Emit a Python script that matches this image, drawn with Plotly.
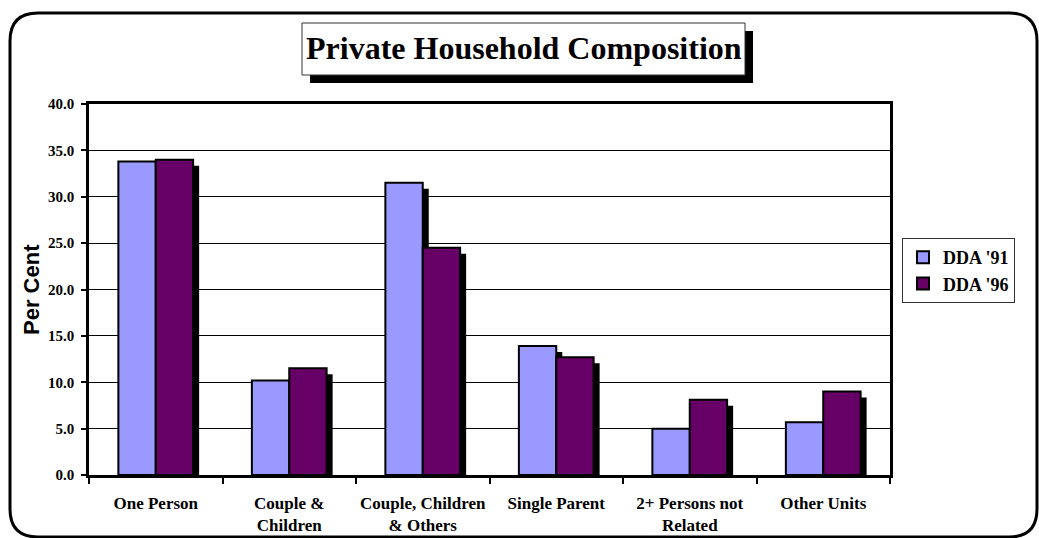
import plotly.graph_objects as go

# Household composition shares (per cent), two census years
categories = [
    "One Person",
    "Couple &<br>Children",
    "Couple, Children<br>& Others",
    "Single Parent",
    "2+ Persons not<br>Related",
    "Other Units",
]
dda_91 = [33.8, 10.2, 31.5, 13.9, 5.0, 5.7]
dda_96 = [34.0, 11.5, 24.5, 12.7, 8.1, 9.0]
series_names = ["DDA '91", "DDA '96"]
y_ticks = [0, 5, 10, 15, 20, 25, 30, 35, 40]

W, H = 1039, 538
# plot area in pixels
PL, PR, PT, PB = 89, 890, 104, 475

SERIF = "Liberation Serif, Times New Roman, serif"
SANS = "Liberation Sans, Arial, sans-serif"
LIGHT = "#9999FF"
DARK = "#660066"

BAR_W = 0.28                      # bar width in category units
SHIFT_X = 6 / ((PR - PL) / len(categories))   # shadow offset, 6 px right
DROP_Y = 6 / ((PB - PT) / 40.0)               # shadow offset, 6 px down


def px(x):
    return (x - PL) / (PR - PL)


def py(y):
    return (PB - y) / (PB - PT)


fig = go.Figure()

# drop shadows behind each bar
for vals, off in ((dda_91, -BAR_W), (dda_96, 0.0)):
    fig.add_trace(go.Bar(
        x=categories, y=[max(v - DROP_Y, 0) for v in vals],
        offset=off + SHIFT_X, width=BAR_W,
        marker=dict(color="black", line=dict(width=0)),
        showlegend=False, hoverinfo="skip",
    ))

for vals, off, col, name in ((dda_91, -BAR_W, LIGHT, series_names[0]),
                             (dda_96, 0.0, DARK, series_names[1])):
    fig.add_trace(go.Bar(
        x=categories, y=vals, name=name,
        offset=off, width=BAR_W,
        marker=dict(color=col, line=dict(color="black", width=2)),
    ))

shapes = []
# rounded outer frame
x0, y0, x1, y1, r = px(10), py(13), px(1037), py(537), 28
rx, ry = r / (PR - PL), r / (PB - PT)
path = (f"M {x0 + rx},{y0} L {x1 - rx},{y0} Q {x1},{y0} {x1},{y0 - ry} "
        f"L {x1},{y1 + ry} Q {x1},{y1} {x1 - rx},{y1} "
        f"L {x0 + rx},{y1} Q {x0},{y1} {x0},{y1 + ry} "
        f"L {x0},{y0 - ry} Q {x0},{y0} {x0 + rx},{y0} Z")
shapes.append(dict(type="path", xref="paper", yref="paper", path=path,
                   line=dict(color="black", width=3), layer="below"))
# title box with shadow
shapes.append(dict(type="rect", xref="paper", yref="paper",
                   x0=px(310), x1=px(753), y0=py(31), y1=py(83),
                   fillcolor="black", line=dict(width=0)))
shapes.append(dict(type="rect", xref="paper", yref="paper",
                   x0=px(302), x1=px(745), y0=py(23), y1=py(75),
                   fillcolor="white", line=dict(color="#333333", width=1)))

annotations = [
    dict(text="Private Household Composition", xref="paper", yref="paper",
         x=px(523.5), y=py(48), showarrow=False, xanchor="center", yanchor="middle",
         font=dict(family=SERIF, size=32, color="black", weight="bold")),
    dict(text="Per Cent", xref="paper", yref="paper",
         x=px(31), y=py(290), showarrow=False, textangle=-90,
         xanchor="center", yanchor="middle",
         font=dict(family=SANS, size=22, color="black", weight="bold")),
]

fig.update_layout(
    width=W, height=H,
    margin=dict(l=PL, r=W - PR, t=PT, b=H - PB, pad=0, autoexpand=False),
    paper_bgcolor="white", plot_bgcolor="white",
    barmode="overlay",
    shapes=shapes, annotations=annotations,
    showlegend=True,
    legend=dict(x=px(902), y=py(238), xanchor="left", yanchor="top",
                bgcolor="white", bordercolor="#333333", borderwidth=1,
                font=dict(family=SERIF, size=18, color="black", weight="bold"),
                itemwidth=30, tracegroupgap=0),
    font=dict(family=SERIF, color="black"),
)

fig.update_xaxes(
    type="category", tickson="boundaries", ticks="outside", ticklen=6,
    tickcolor="black", tickwidth=1.5, tickangle=0, automargin=False,
    showline=True, linecolor="black", linewidth=2.5, mirror=True,
    tickfont=dict(family=SERIF, size=17, color="black", weight="bold"),
    ticklabelstandoff=11,
)
fig.update_yaxes(
    range=[0, 40], tickvals=y_ticks, tickformat=".1f", automargin=False,
    ticks="outside", ticklen=5, tickcolor="black", tickwidth=1.5,
    showline=True, linecolor="black", linewidth=2.5, mirror=True,
    showgrid=True, gridcolor="black", gridwidth=1,
    tickfont=dict(family=SERIF, size=15, color="black", weight="bold"),
    ticklabelstandoff=4,
    zeroline=False,
)

fig.write_html("out.html")
